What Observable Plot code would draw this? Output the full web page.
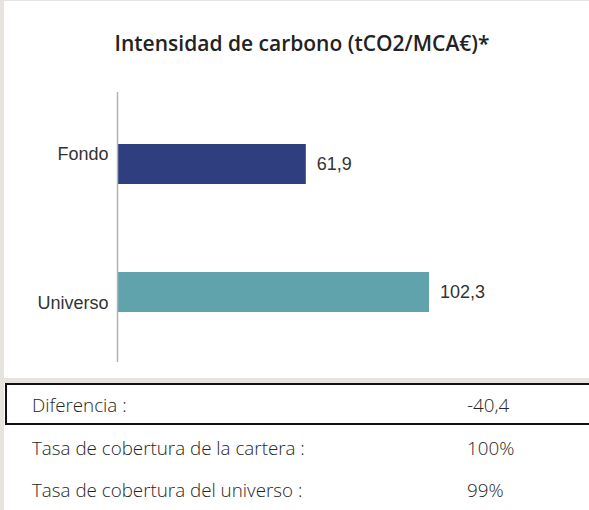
<!DOCTYPE html>
<html><head><meta charset="utf-8">
<script src="https://cdn.jsdelivr.net/npm/d3@7"></script>
<script src="https://cdn.jsdelivr.net/npm/@observablehq/plot@0.6"></script>
<style>
html,body{margin:0;padding:0}
body{background:#e7e3df;width:589px;height:510px;overflow:hidden;position:relative;font-family:"Open Sans",sans-serif}
#card{position:absolute;left:4px;top:1px;width:585px;height:377px;background:#fff}
#title{position:absolute;left:0;top:28px;width:596px;text-align:center;font-weight:600;font-size:21px;color:#222;white-space:nowrap}
#chart{position:absolute;left:0;top:80px}
#table{position:absolute;left:4px;top:383px;width:585px;height:127px;background:#fff}
.row{position:absolute;left:1px;width:600px;height:42px;box-sizing:border-box;color:#262626;font-weight:300;font-size:18.8px;line-height:42px}
.row.boxed{border:2px solid #111;line-height:40px}
.row span{position:absolute;white-space:nowrap}
</style>
</head><body>
<div id="card"><div id="title"></div></div>
<div id="chart"></div>
<div id="table"></div>
<script>
const titleText = "Intensidad de carbono (tCO2/MCA€)*";
const categories = ["Fondo", "Universo"];
const values = [61.9, 102.3];
const barColors = ["#2f3e7e", "#60a3ad"];
const tableLabels = ["Diferencia :", "Tasa de cobertura de la cartera :", "Tasa de cobertura del universo :"];
const tableValues = ["-40,4", "100%", "99%"];

document.getElementById("title").textContent = titleText;

const data = categories.map((c, i) => ({name: c, value: values[i]}));
const fmt = v => v.toFixed(1).replace(".", ",");

const chart = Plot.plot({
  width: 589,
  height: 300,
  marginTop: 12,
  marginBottom: 18,
  marginLeft: 117,
  marginRight: 14.5,
  style: {fontFamily: "Liberation Sans, Arial, sans-serif", background: "transparent", overflow: "visible"},
  x: {domain: [0, 150], axis: null},
  y: {type: "band", domain: categories, paddingInner: 0.6875, paddingOuter: 0.398, align: 0.51, axis: null},
  color: {domain: categories, range: barColors},
  marks: [
    Plot.barX(data, {x: "value", y: "name", fill: "name"}),
    Plot.ruleX([0], {stroke: "#b3b3b3", strokeWidth: 1.5}),
    Plot.text(data, {x: "value", y: "name", text: d => fmt(d.value), textAnchor: "start", dx: 10.5, fontSize: 18, fill: "#333"}),
    Plot.text(data.filter(d => d.name === "Fondo"), {x: 0, y: "name", text: "name", textAnchor: "end", dx: -9, dy: -10, fontSize: 18, fill: "#333"}),
    Plot.text(data.filter(d => d.name === "Universo"), {x: 0, y: "name", text: "name", textAnchor: "end", dx: -9, dy: 11, fontSize: 18, fill: "#333"})
  ]
});
document.getElementById("chart").appendChild(chart);

const table = document.getElementById("table");
const tops = [0, 44, 86];
tableLabels.forEach((lab, i) => {
  const row = document.createElement("div");
  row.className = "row" + (i === 0 ? " boxed" : "");
  row.style.top = tops[i] + "px";
  const off = i === 0 ? 2 : 0;
  const a = document.createElement("span");
  a.style.left = (27 - off) + "px";
  a.textContent = lab;
  const b = document.createElement("span");
  b.style.left = (462 - off) + "px";
  b.textContent = tableValues[i];
  row.appendChild(a); row.appendChild(b);
  table.appendChild(row);
});
</script>
</body></html>
